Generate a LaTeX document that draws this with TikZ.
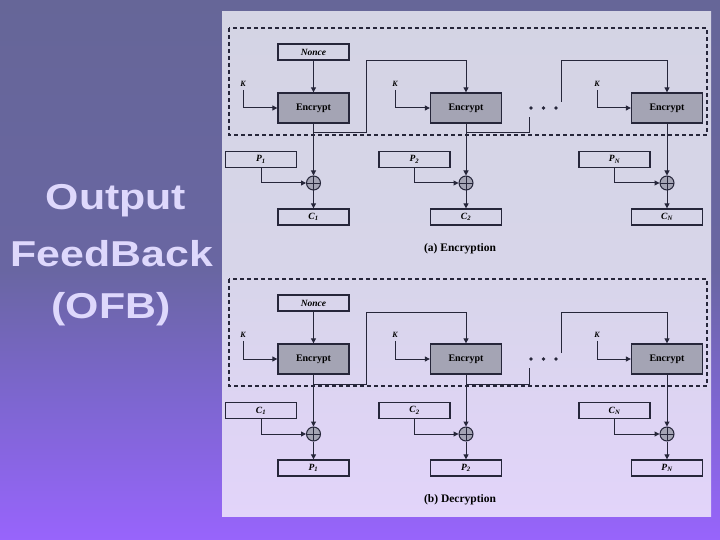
\documentclass[tikz,border=0pt]{standalone}
\usepackage{fontspec}
\setmainfont{Liberation Serif}
\newfontfamily\titlefont{Liberation Sans}
\usetikzlibrary{arrows.meta,calc}
\definecolor{bgtop}{RGB}{102,102,152}
\definecolor{bgmid}{RGB}{105,102,162}
\definecolor{bglow}{RGB}{126,102,210}
\definecolor{bgbot}{RGB}{152,100,252}
\definecolor{pantop}{RGB}{212,212,228}
\definecolor{panmid}{RGB}{215,213,233}
\definecolor{panbot}{RGB}{226,212,250}
\definecolor{ink}{RGB}{38,38,58}
\definecolor{encgray}{RGB}{164,164,180}
\definecolor{titlecol}{RGB}{222,216,252}
\pgfdeclareverticalshading{bgshade}{100bp}{color(0bp)=(bgbot); color(25bp)=(bgbot); color(37.5bp)=(bglow); color(50bp)=(bgmid); color(75bp)=(bgtop); color(100bp)=(bgtop)}
\pgfdeclareverticalshading{panshade}{100bp}{color(0bp)=(panbot); color(25bp)=(panbot); color(50bp)=(panmid); color(75bp)=(pantop); color(100bp)=(pantop)}
\tikzset{
  plainbox/.style={draw=ink, line width=1.3pt, rectangle, inner sep=0pt, minimum width=71pt, minimum height=16pt, font=\fontsize{9.5}{10}\selectfont\bfseries\itshape},
  encbox/.style={draw=ink, line width=1.3pt, fill=encgray, rectangle, inner sep=0pt, minimum width=71pt, minimum height=30pt, font=\fontsize{10}{11}\selectfont\bfseries},
  xorop/.style={draw=ink, line width=1pt, fill=encgray, circle, inner sep=0pt, minimum size=14pt,
    path picture={\draw[ink, line width=0.9pt] (path picture bounding box.north) -- (path picture bounding box.south) (path picture bounding box.west) -- (path picture bounding box.east);}},
  klabel/.style={inner sep=0pt, font=\fontsize{8}{9}\selectfont\bfseries\itshape},
  arr/.style={draw=ink, line width=1pt, -{Triangle[length=5pt,width=5pt]}},
  wire/.style={draw=ink, line width=1pt},
  dashbox/.style={draw=ink, line width=1.1pt, dash pattern=on 4pt off 3pt},
  caption/.style={inner sep=0pt, font=\fontsize{11.5}{12}\selectfont\bfseries},
  title/.style={inner sep=0pt, text=titlecol, font=\titlefont\bfseries\fontsize{36}{40}\selectfont, xscale=1.19, anchor=base},
  dotmark/.style={circle, fill=ink, inner sep=0pt, minimum size=3.6pt}
}
\begin{document}
\begin{tikzpicture}[x=1pt,y=-1pt]
\useasboundingbox (0,0) rectangle (720,540);
\shade[shading=bgshade] (0,0) rectangle (720,540);
\shade[shading=panshade] (222,12) rectangle (711,516);
% title
\node[title] (t1) at (116,210) {Output};
\node[title] (t2) at (112,266) {FeedBack};
\node[title] (t3) at (111,318) {(OFB)};
\foreach \s/\dy/\In/\Out/\cap in {a/0/P/C/(a) Encryption, b/251/C/P/(b) Decryption}{
  \draw[dashbox] (229,28+\dy) rectangle (707,135+\dy);
  \node[plainbox] (\s-nonce) at (313.5,52+\dy) {Nonce};
  \node[encbox] (\s-enc1) at (313.5,108+\dy) {Encrypt};
  \node[encbox] (\s-enc2) at (466,108+\dy) {Encrypt};
  \node[encbox] (\s-enc3) at (667,108+\dy) {Encrypt};
  \node[klabel] (\s-k1) at (243,84+\dy) {K};
  \node[klabel] (\s-k2) at (395,84+\dy) {K};
  \node[klabel] (\s-k3) at (597,84+\dy) {K};
  \draw[arr] (\s-k1.south) ++(0,3) |- (\s-enc1.west);
  \draw[arr] (\s-k2.south) ++(0,3) |- (\s-enc2.west);
  \draw[arr] (\s-k3.south) ++(0,3) |- (\s-enc3.west);
  \draw[arr] (\s-nonce) -- (\s-enc1);
  % dots
  \node[dotmark] (\s-d1) at (531,108+\dy) {};
  \node[dotmark] (\s-d2) at (543.5,108+\dy) {};
  \node[dotmark] (\s-d3) at (556,108+\dy) {};
  % xor and in/out boxes
  \node[xorop] (\s-x1) at (313.5,183+\dy) {};
  \node[xorop] (\s-x2) at (466,183+\dy) {};
  \node[xorop] (\s-x3) at (667,183+\dy) {};
  \node[plainbox] (\s-i1) at (261,159.5+\dy) {\In\textsubscript{1}};
  \node[plainbox] (\s-i2) at (414.5,159.5+\dy) {\In\textsubscript{2}};
  \node[plainbox] (\s-i3) at (614.5,159.5+\dy) {\In\textsubscript{N}};
  \node[plainbox] (\s-o1) at (313.5,217+\dy) {\Out\textsubscript{1}};
  \node[plainbox] (\s-o2) at (466,217+\dy) {\Out\textsubscript{2}};
  \node[plainbox] (\s-o3) at (667,217+\dy) {\Out\textsubscript{N}};
  \draw[arr] (\s-enc1) -- (\s-x1);
  \draw[arr] (\s-enc2) -- (\s-x2);
  \draw[arr] (\s-enc3) -- (\s-x3);
  \draw[arr] (\s-i1.south) |- (\s-x1.west);
  \draw[arr] (\s-i2.south) |- (\s-x2.west);
  \draw[arr] (\s-i3.south) |- (\s-x3.west);
  \draw[arr] (\s-x1) -- (\s-o1);
  \draw[arr] (\s-x2) -- (\s-o2);
  \draw[arr] (\s-x3) -- (\s-o3);
  % feedback
  \coordinate (\s-j1) at (313.5,133+\dy);
  \coordinate (\s-u1) at (366,61+\dy);
  \draw[arr] (\s-j1) -| (\s-u1) -| (\s-enc2.north);
  \coordinate (\s-j2) at (466,133+\dy);
  \coordinate (\s-e2) at (529,117+\dy);
  \draw[wire] (\s-j2) -| (\s-e2);
  \coordinate (\s-s3) at (561,102+\dy);
  \coordinate (\s-u3) at (667,61+\dy);
  \draw[arr] (\s-s3) |- (\s-u3) -- (\s-enc3.north);
  \node[caption] (\s-cap) at (460,249+\dy) {\cap};
}
\end{tikzpicture}
\end{document}
